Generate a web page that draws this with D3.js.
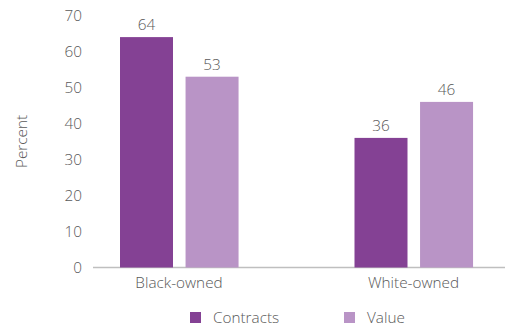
<!DOCTYPE html>
<html><head><meta charset="utf-8">
<script src="https://cdn.jsdelivr.net/npm/d3@7"></script>
<style>body{margin:0;background:#fff}svg{display:block}text{font-family:"Open Sans",sans-serif;font-weight:300;fill:#595959}</style>
</head><body><svg id="c" width="507" height="331"></svg>
<script>
const categories = ["Black-owned", "White-owned"];
const seriesNames = ["Contracts", "Value"];
const contracts = [64, 36];
const value = [53, 46];
const yTicks = [0, 10, 20, 30, 40, 50, 60, 70];
const colors = ["#844194", "#b994c6"];

const svg = d3.select("#c");
const y = d3.scaleLinear().domain([0, 70]).range([267.5, 15.5]);
const x0 = d3.scaleBand().domain(categories).range([61.75, 530.75]);
const x1 = d3.scaleBand().domain(seriesNames).range([0, 118]).paddingInner(0.2);
const bw = 53;
const data = [contracts, value];
const fs = 15.3;

// axis line
svg.append("line").attr("x1", 93).attr("x2", 505).attr("y1", y(0)).attr("y2", y(0))
  .attr("stroke", "#bfbfbf").attr("stroke-width", 1.5);

// y tick labels
svg.selectAll(".yt").data(yTicks).enter().append("text")
  .attr("x", 82).attr("y", d => y(d)).attr("dy", "0.35em").attr("text-anchor", "end")
  .attr("font-size", fs).text(d => d);

svg.append("text").attr("transform", `translate(27,${y(35)}) rotate(-90)`)
  .attr("text-anchor", "middle").attr("font-size", fs).text("Percent");

categories.forEach((c, i) => {
  const cx = x0(c) + x0.bandwidth() / 2;
  const start = cx - 59;
  seriesNames.forEach((s, j) => {
    const v = data[j][i];
    const bx = start + x1(s);
    svg.append("rect").attr("x", bx).attr("y", y(v)).attr("width", bw)
      .attr("height", y(0) - y(v)).attr("fill", colors[j]);
    svg.append("text").attr("x", bx + bw / 2).attr("y", y(v) - 7)
      .attr("text-anchor", "middle").attr("font-size", fs).text(v);
  });
  svg.append("text").attr("x", cx).attr("y", 288).attr("text-anchor", "middle")
    .attr("font-size", fs).text(c);
});

// legend
const legX = [190, 344];
seriesNames.forEach((s, j) => {
  svg.append("rect").attr("x", legX[j]).attr("y", 312).attr("width", 11).attr("height", 11).attr("fill", colors[j]);
  svg.append("text").attr("x", legX[j] + 23).attr("y", 318).attr("dy", "0.35em")
    .attr("font-size", fs).text(s);
});
</script></body></html>
